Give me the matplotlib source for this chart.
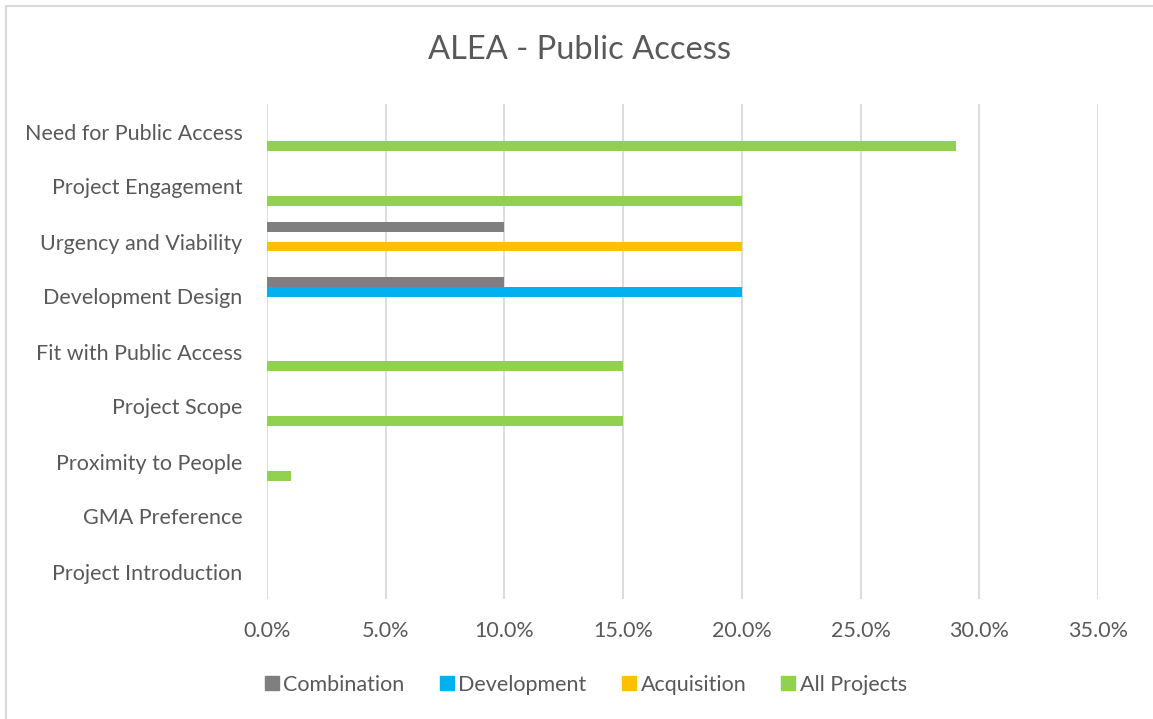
import matplotlib
matplotlib.use("Agg")
import matplotlib.pyplot as plt
from matplotlib.lines import Line2D
from matplotlib.patches import Rectangle
import numpy as np

plt.rcParams['font.family'] = ['Lato', 'DejaVu Sans']

categories = ["Need for Public Access", "Project Engagement", "Urgency and Viability",
              "Development Design", "Fit with Public Access", "Project Scope",
              "Proximity to People", "GMA Preference", "Project Introduction"]
series_names = ["Combination", "Development", "Acquisition", "All Projects"]
combination = [0, 0, 10, 10, 0, 0, 0, 0, 0]
development = [0, 0, 0, 20, 0, 0, 0, 0, 0]
acquisition = [0, 0, 20, 0, 0, 0, 0, 0, 0]
all_projects = [29, 20, 0, 0, 15, 15, 1, 0, 0]
xticks = [0, 5, 10, 15, 20, 25, 30, 35]
colors = ["#7f7f7f", "#00b0f0", "#ffc000", "#92d050"]
text_color = "#595959"
grid_color = "#d9d9d9"

W, H = 1153, 719
fig = plt.figure(figsize=(W / 100, H / 100), dpi=100)
ax = fig.add_axes([267 / W, 1 - 599 / H, (1098 - 267) / W, (599 - 104) / H])

y = np.arange(len(categories))
bh = 0.173
offsets = [-1.5 * bh, -0.5 * bh, 0.5 * bh, 1.5 * bh]
data = [combination, development, acquisition, all_projects]
for vals, off, c in zip(data, offsets, colors):
    ax.barh(y + off, vals, height=bh, color=c, zorder=3)

ax.set_ylim(len(categories) - 0.5, -0.5)
ax.set_xlim(0, 35)
ax.set_xticks(xticks)
ax.set_xticklabels([f"{t:.1f}%" for t in xticks], color=text_color, fontsize=15.5)
ax.set_yticks(y)
ax.set_yticklabels(categories, color=text_color, fontsize=15.5)
ax.tick_params(axis='both', length=0)
ax.tick_params(axis='x', pad=16)
ax.tick_params(axis='y', pad=17.5)
ax.grid(axis='x', color=grid_color, linewidth=1.3, zorder=0)
for s in ax.spines.values():
    s.set_visible(False)

fig.text(580 / W, 1 - 50 / H, "ALEA - Public Access", ha='center', va='center',
         fontsize=23.5, color=text_color)

handles = [Line2D([], [], marker='s', linestyle='none', markersize=10, color=c) for c in colors]
fig.legend(handles, series_names, loc='center', bbox_to_anchor=(584 / W, 1 - 685 / H), ncol=4,
           frameon=False, fontsize=15.5, labelcolor=text_color, handletextpad=0.05,
           columnspacing=1.45, handlelength=1.0)

fig.patches.append(Rectangle((5.5 / W, -0.1), 1.2, 1 - 5.5 / H + 0.1, transform=fig.transFigure,
                             fill=False, edgecolor=grid_color, linewidth=1.5))

fig.savefig("out.png", dpi=100)
